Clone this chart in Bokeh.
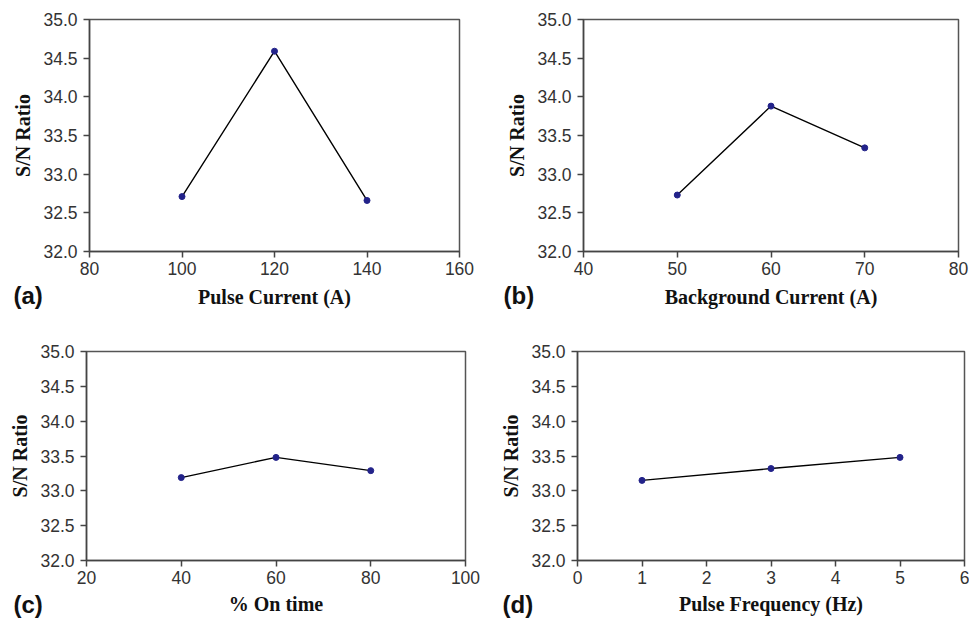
from bokeh.plotting import figure
from bokeh.layouts import column, row
from bokeh.models import Range1d, SingleIntervalTicker, NumeralTickFormatter, Title
from bokeh.embed import file_html
from bokeh.resources import INLINE

# Data
pulse_current = [100, 120, 140]
sn_pulse_current = [32.71, 34.59, 32.66]

background_current = [50, 60, 70]
sn_background_current = [32.73, 33.88, 33.34]

on_time = [40, 60, 80]
sn_on_time = [33.19, 33.48, 33.29]

pulse_frequency = [1, 3, 5]
sn_pulse_frequency = [33.15, 33.32, 33.48]

y_label = "S/N Ratio"
panels = [
    dict(x=pulse_current, y=sn_pulse_current, xr=(80, 160), step=20,
         xlabel="Pulse Current (A)", tag="(a)",
         w=480, h=310, bl=89, br=21, bt=19, bb=58, tagdx=-76, so=-58, xls=8),
    dict(x=background_current, y=sn_background_current, xr=(40, 80), step=10,
         xlabel="Background Current (A)", tag="(b)",
         w=489, h=310, bl=103, br=11, bt=19, bb=57, tagdx=-80, so=-58, xls=8),
    dict(x=on_time, y=sn_on_time, xr=(20, 100), step=20,
         xlabel="% On time", tag="(c)",
         w=480, h=309, bl=86, br=15, bt=41, bb=56, tagdx=-73, so=-54, xls=6),
    dict(x=pulse_frequency, y=sn_pulse_frequency, xr=(0, 6), step=1,
         xlabel="Pulse Frequency (Hz)", tag="(d)",
         w=489, h=309, bl=97, br=5, bt=41, bb=59, tagdx=-75, so=-54, xls=6),
]

figs = []
for pd_ in panels:
    p = figure(width=pd_["w"], height=pd_["h"], output_backend="svg",
               toolbar_location=None, x_range=Range1d(*pd_["xr"]),
               y_range=Range1d(32, 35),
               min_border_left=pd_["bl"], min_border_right=pd_["br"],
               min_border_top=pd_["bt"], min_border_bottom=pd_["bb"])
    p.grid.visible = False
    p.outline_line_color = "#555555"
    p.outline_line_width = 1.5

    p.xaxis.ticker = SingleIntervalTicker(interval=pd_["step"])
    p.yaxis.ticker = SingleIntervalTicker(interval=0.5)
    p.yaxis.formatter = NumeralTickFormatter(format="0.0")
    for ax in (p.xaxis, p.yaxis):
        ax.axis_line_color = "#444444"
        ax.axis_line_width = 1.5
        ax.major_tick_line_color = "#444444"
        ax.major_tick_line_width = 1.5
        ax.major_tick_out = 6
        ax.major_tick_in = 0
        ax.minor_tick_line_color = None
        ax.major_label_text_font = "Liberation Sans"
        ax.major_label_text_font_size = "17.5px"
        ax.major_label_text_color = "#333333"
        ax.axis_label_text_font = "Liberation Serif"
        ax.axis_label_text_font_style = "bold"
        ax.axis_label_text_font_size = "20px"
        ax.axis_label_text_color = "#111111"
    p.xaxis.axis_label = pd_["xlabel"]
    p.yaxis.axis_label = y_label
    p.xaxis.major_label_standoff = 4
    p.xaxis.axis_label_standoff = pd_["xls"]
    p.yaxis.major_label_standoff = 6
    p.yaxis.axis_label_standoff = 6

    p.line(pd_["x"], pd_["y"], line_color="black", line_width=1.4)
    p.scatter(pd_["x"], pd_["y"], size=6, fill_color="#23238a",
              line_color="#23238a")

    t = Title(text=pd_["tag"], align="left", offset=pd_["tagdx"],
              standoff=pd_["so"], vertical_align="top",
              text_font="Liberation Sans", text_font_style="bold",
              text_font_size="24px", text_color="#111111")
    p.add_layout(t, "below")
    figs.append(p)

layout = column(row(figs[0], figs[1]), row(figs[2], figs[3]))

with open("out.html", "w") as f:
    f.write(file_html(layout, INLINE))
